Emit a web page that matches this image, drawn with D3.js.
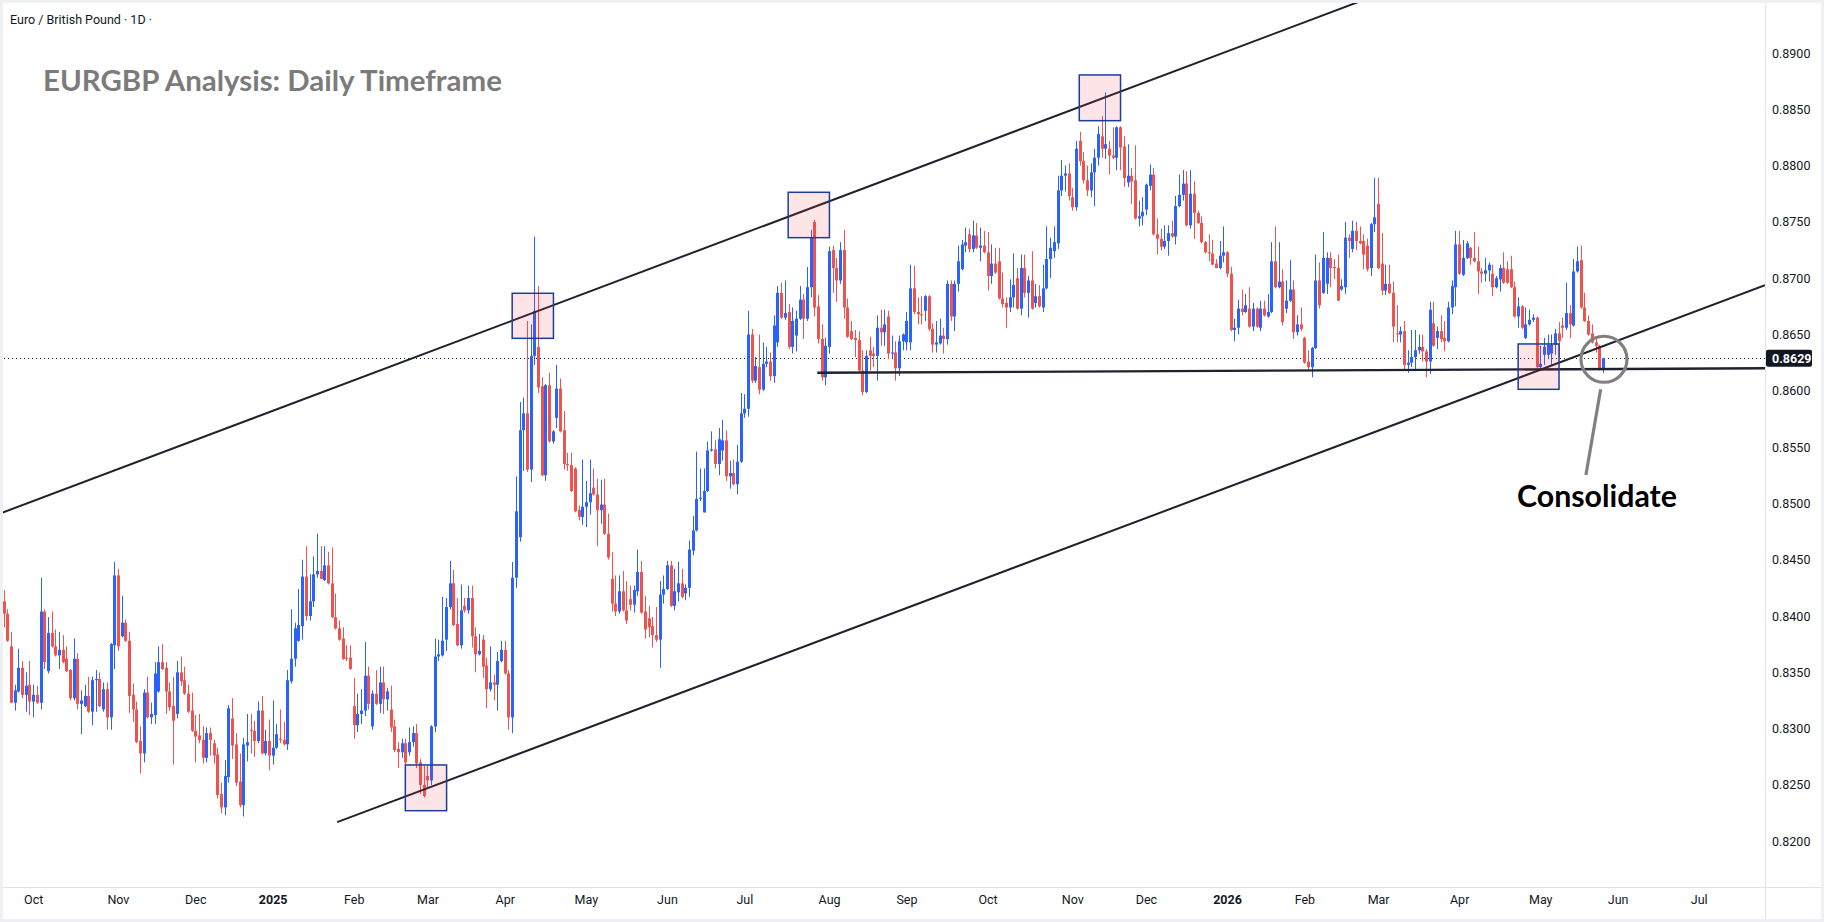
<!DOCTYPE html>
<html lang="en">
<head>
<meta charset="utf-8">
<title>EURGBP Analysis: Daily Timeframe</title>
<script src="https://d3js.org/d3.v7.min.js"></script>
<style>
  body { margin: 0; background: #fff; }
  svg { display: block; font-family: Roboto, "Liberation Sans", sans-serif; }
</style>
</head>
<body>
<div id="chart"></div>
<script>

// EURGBP daily candles, prices in pips (price x 10000), first bar 2024-09-19
var opens = [
  8413,8402,8373,8323,8333,8354,8330,8339,8324,8330, 8323,8404,8351,8385,8373,8365,8370,8362,8352,8327,
  8362,8322,8320,8329,8315,8343,8344,8317,8335,8310, 8374,8436,8382,8394,8378,8330,8317,8289,8278,8332,
  8310,8312,8333,8359,8354,8333,8320,8313,8350,8343, 8331,8316,8298,8294,8290,8274,8296,8287,8277,8242,
  8230,8257,8309,8286,8253,8232,8285,8299,8298,8289, 8316,8278,8289,8276,8283,8291,8290,8286,8342,8362,
  8378,8391,8435,8400,8413,8437,8440,8432,8445,8429, 8399,8389,8380,8363,8363,8320,8303,8313,8316,8347,
  8302,8331,8322,8341,8326,8317,8302,8282,8279,8287, 8279,8288,8296,8270,8250,8258,8254,8302,8364,8365,
  8379,8408,8429,8393,8374,8409,8405,8416,8382,8366, 8379,8356,8335,8341,8339,8360,8370,8349,8310,8434,
  8470,8565,8580,8530,8631,8639,8604,8525,8605,8555, 8576,8602,8565,8535,8534,8531,8494,8488,8497,8501,
  8514,8508,8494,8499,8473,8433,8411,8404,8422,8405, 8415,8410,8422,8439,8404,8398,8391,8383,8379,8419,
  8424,8445,8409,8421,8429,8420,8425,8458,8476,8504, 8492,8511,8547,8548,8535,8547,8556,8524,8527,8517,
  8537,8580,8584,8650,8609,8621,8601,8624,8626,8613, 8643,8687,8665,8670,8639,8649,8664,8681,8664,8692,
  8750,8675,8646,8612,8639,8725,8709,8698,8725,8674, 8653,8647,8645,8618,8599,8636,8633,8631,8656,8652,
  8666,8633,8634,8620,8644,8643,8643,8691,8670,8668, 8671,8684,8655,8641,8642,8649,8646,8695,8666,8695,
  8708,8729,8739,8726,8738,8727,8729,8723,8702,8713, 8715,8682,8678,8674,8683,8700,8673,8709,8687,8698,
  8678,8684,8674,8691,8717,8724,8731,8778,8791,8793, 8772,8763,8822,8804,8787,8778,8794,8807,8826,8815,
  8815,8809,8807,8834,8817,8785,8791,8787,8753,8755, 8761,8782,8792,8739,8735,8728,8733,8740,8737,8764,
  8774,8784,8747,8775,8758,8749,8732,8723,8722,8713, 8709,8720,8723,8704,8654,8656,8673,8670,8673,8657,
  8673,8656,8673,8666,8670,8715,8692,8697,8673,8680, 8690,8652,8659,8647,8626,8621,8638,8698,8687,8695,
  8718,8710,8709,8690,8692,8736,8726,8742,8733,8733, 8729,8709,8748,8766,8713,8689,8695,8687,8651,8650,
  8653,8623,8625,8630,8636,8639,8635,8626,8660,8647, 8653,8647,8644,8674,8692,8730,8703,8718,8727,8718,
  8715,8706,8704,8707,8704,8692,8699,8709,8708,8708, 8692,8666,8675,8647,8659,8663,8665,8621,8632,8632,
  8633,8641,8651,8658,8656,8669,8658,8706,8716,8674, 8662,8651,8643,8640,8619
];
var highs = [
  8423,8406,8386,8339,8371,8360,8350,8360,8339,8338, 8434,8406,8399,8404,8388,8386,8383,8373,8353,8380,
  8367,8334,8339,8346,8346,8352,8350,8341,8341,8376, 8448,8442,8418,8397,8386,8340,8324,8302,8335,8346,
  8323,8359,8373,8375,8359,8341,8346,8360,8364,8355, 8339,8332,8312,8313,8302,8301,8301,8290,8283,8252,
  8272,8321,8327,8296,8278,8292,8313,8313,8307,8324, 8329,8299,8308,8325,8304,8317,8306,8352,8406,8394,
  8424,8450,8462,8437,8453,8473,8462,8462,8457,8461, 8420,8396,8390,8374,8374,8345,8331,8335,8377,8355,
  8334,8352,8355,8355,8336,8338,8308,8288,8291,8291, 8301,8302,8304,8273,8267,8267,8303,8380,8379,8417,
  8416,8449,8441,8416,8428,8416,8427,8427,8390,8384, 8383,8363,8373,8348,8368,8378,8378,8352,8448,8524,
  8590,8594,8662,8659,8737,8693,8612,8606,8616,8565, 8623,8611,8582,8545,8545,8532,8498,8539,8520,8539,
  8531,8522,8521,8522,8491,8457,8436,8436,8440,8431, 8427,8427,8459,8449,8418,8409,8399,8408,8431,8436,
  8449,8449,8442,8448,8442,8428,8467,8489,8546,8531, 8531,8555,8564,8556,8567,8574,8565,8538,8539,8552,
  8598,8597,8671,8655,8630,8650,8643,8639,8634,8667, 8693,8696,8698,8677,8674,8671,8693,8686,8710,8743,
  8752,8685,8659,8647,8728,8729,8718,8732,8743,8682, 8662,8654,8653,8636,8636,8648,8639,8667,8672,8672,
  8671,8649,8644,8649,8651,8670,8712,8711,8683,8684, 8685,8685,8660,8662,8664,8656,8698,8698,8698,8729,
  8734,8745,8744,8751,8749,8745,8742,8741,8730,8727, 8727,8705,8683,8699,8722,8709,8721,8721,8702,8724,
  8695,8694,8712,8746,8736,8746,8791,8805,8800,8802, 8780,8822,8830,8812,8800,8802,8815,8835,8844,8865,
  8822,8834,8835,8835,8826,8819,8798,8818,8769,8772, 8784,8801,8798,8753,8744,8747,8747,8751,8773,8792,
  8796,8795,8796,8786,8760,8755,8733,8739,8734,8717, 8733,8746,8724,8710,8664,8681,8690,8686,8692,8678,
  8674,8680,8680,8686,8732,8746,8732,8708,8698,8716, 8698,8667,8674,8648,8636,8639,8721,8714,8741,8723,
  8723,8717,8721,8699,8750,8739,8751,8750,8746,8739, 8735,8749,8789,8789,8740,8712,8712,8697,8676,8657,
  8662,8636,8654,8654,8650,8650,8637,8679,8679,8657, 8667,8662,8679,8698,8742,8742,8734,8733,8728,8741,
  8728,8709,8718,8714,8712,8702,8712,8723,8715,8720, 8697,8683,8676,8674,8672,8668,8666,8640,8647,8650,
  8650,8655,8661,8665,8696,8676,8717,8728,8729,8687, 8667,8659,8646,8641,8629
];
var lows = [
  8390,8377,8323,8316,8332,8327,8315,8312,8310,8322, 8317,8353,8349,8372,8364,8353,8358,8350,8325,8325,
  8317,8295,8319,8314,8303,8315,8319,8315,8299,8299, 8353,8369,8381,8377,8314,8306,8287,8260,8270,8309,
  8304,8304,8332,8352,8313,8316,8268,8309,8338,8330, 8314,8297,8270,8287,8269,8270,8276,8269,8238,8225,
  8223,8252,8273,8249,8230,8222,8271,8278,8275,8287, 8277,8276,8263,8268,8282,8287,8285,8281,8340,8355,
  8377,8379,8396,8396,8408,8434,8433,8431,8428,8398, 8388,8378,8361,8360,8352,8291,8297,8304,8311,8317,
  8299,8321,8314,8313,8316,8297,8279,8265,8274,8265, 8276,8284,8265,8242,8239,8248,8250,8297,8360,8364,
  8369,8406,8391,8373,8371,8403,8402,8372,8350,8365, 8345,8318,8333,8325,8316,8359,8348,8299,8296,8425,
  8466,8529,8528,8519,8623,8598,8524,8520,8554,8553, 8567,8563,8530,8529,8510,8492,8485,8481,8479,8490,
  8507,8462,8482,8472,8450,8404,8400,8402,8404,8393, 8405,8403,8418,8402,8380,8381,8372,8377,8354,8411,
  8423,8408,8405,8413,8416,8414,8417,8454,8475,8502, 8492,8510,8546,8531,8525,8538,8520,8513,8516,8508,
  8536,8576,8577,8607,8607,8597,8600,8621,8609,8607, 8639,8664,8663,8637,8633,8635,8663,8646,8662,8683,
  8666,8642,8609,8605,8633,8687,8679,8695,8664,8647, 8645,8630,8617,8596,8598,8618,8621,8609,8640,8640,
  8628,8628,8609,8613,8636,8636,8636,8668,8659,8659, 8662,8653,8634,8634,8641,8633,8641,8662,8653,8688,
  8707,8723,8723,8723,8726,8715,8722,8689,8695,8704, 8681,8674,8656,8670,8674,8672,8667,8683,8665,8672,
  8674,8674,8670,8690,8700,8718,8726,8773,8777,8769, 8760,8760,8800,8784,8773,8772,8764,8800,8807,8806,
  8792,8806,8796,8796,8781,8781,8766,8752,8746,8747, 8756,8778,8738,8721,8725,8726,8720,8736,8730,8763,
  8769,8746,8744,8735,8748,8731,8722,8715,8712,8709, 8708,8714,8701,8653,8644,8650,8667,8669,8656,8653,
  8656,8653,8666,8665,8669,8691,8691,8658,8669,8679, 8646,8649,8653,8624,8619,8612,8637,8673,8686,8686,
  8692,8699,8680,8689,8686,8718,8723,8725,8730,8708, 8706,8702,8741,8708,8685,8685,8686,8643,8643,8643,
  8618,8616,8621,8619,8633,8626,8612,8615,8639,8637, 8643,8635,8643,8668,8675,8703,8702,8717,8712,8714,
  8686,8696,8697,8697,8684,8691,8688,8695,8695,8691, 8665,8656,8655,8646,8658,8661,8620,8618,8623,8628,
  8623,8632,8630,8647,8654,8647,8657,8705,8673,8661, 8649,8642,8634,8618,8616
];
var closes = [
  8402,8378,8323,8334,8354,8330,8338,8324,8330,8323, 8404,8359,8385,8373,8365,8370,8359,8351,8327,8362,
  8322,8325,8329,8315,8343,8344,8320,8335,8310,8375, 8436,8373,8394,8378,8329,8317,8288,8278,8332,8310,
  8313,8349,8359,8353,8333,8319,8307,8350,8342,8331, 8315,8298,8293,8290,8274,8296,8290,8276,8241,8230,
  8258,8318,8285,8252,8232,8286,8288,8298,8289,8316, 8278,8289,8276,8283,8295,8290,8286,8343,8362,8389,
  8392,8435,8400,8413,8437,8440,8433,8445,8429,8399, 8389,8379,8362,8362,8353,8303,8313,8316,8347,8322,
  8331,8322,8341,8326,8333,8301,8281,8279,8287,8270, 8288,8296,8269,8250,8240,8254,8302,8364,8366,8378,
  8408,8429,8392,8374,8405,8405,8416,8382,8366,8369, 8355,8335,8341,8339,8360,8370,8349,8310,8434,8493,
  8565,8580,8530,8631,8671,8603,8525,8605,8555,8564, 8602,8564,8535,8534,8511,8493,8488,8497,8501,8509,
  8508,8494,8499,8473,8452,8411,8404,8422,8405,8396, 8410,8423,8439,8403,8388,8390,8383,8379,8419,8424,
  8445,8409,8422,8429,8417,8425,8459,8476,8504,8505, 8511,8547,8548,8535,8557,8556,8524,8527,8517,8537,
  8580,8584,8650,8609,8622,8601,8624,8626,8613,8658, 8687,8665,8669,8639,8662,8664,8681,8664,8692,8736,
  8674,8646,8612,8640,8724,8709,8698,8725,8674,8648, 8646,8645,8618,8599,8631,8631,8631,8656,8652,8659,
  8633,8634,8620,8644,8650,8662,8691,8670,8668,8667, 8684,8655,8641,8643,8649,8646,8695,8666,8695,8715,
  8730,8732,8726,8738,8727,8729,8723,8702,8713,8705, 8682,8677,8674,8683,8694,8673,8709,8687,8698,8673,
  8684,8675,8691,8717,8727,8732,8778,8791,8793,8773, 8763,8815,8804,8787,8778,8794,8807,8828,8815,8819,
  8809,8807,8834,8816,8789,8791,8786,8753,8755,8759, 8783,8792,8739,8735,8728,8733,8740,8737,8764,8774,
  8784,8747,8775,8758,8749,8732,8723,8722,8712,8709, 8720,8723,8704,8654,8656,8673,8670,8676,8657,8673,
  8657,8673,8667,8670,8715,8692,8697,8661,8680,8690, 8652,8659,8655,8625,8621,8638,8698,8676,8718,8718,
  8709,8709,8680,8693,8736,8733,8742,8733,8731,8721, 8708,8748,8754,8709,8689,8695,8687,8657,8650,8653,
  8623,8625,8630,8636,8639,8635,8626,8672,8640,8653, 8646,8644,8674,8693,8730,8704,8718,8731,8718,8715,
  8706,8704,8707,8712,8692,8700,8709,8696,8696,8692, 8666,8675,8656,8659,8663,8665,8621,8624,8639,8641,
  8641,8651,8644,8656,8669,8659,8706,8715,8674,8662, 8650,8643,8640,8619,8629
];

var priceTicks = [0.8200, 0.8250, 0.8300, 0.8350, 0.8400, 0.8450, 0.8500, 0.8550,
                  0.8600, 0.8650, 0.8700, 0.8750, 0.8800, 0.8850, 0.8900];
var monthNames = ['Jan', 'Feb', 'Mar', 'Apr', 'May', 'Jun', 'Jul', 'Aug', 'Sep', 'Oct', 'Nov', 'Dec'];
var firstDay = new Date(2024, 8, 19);
var lastPrice = 0.8629;

// drawings, as [bar index, price]
var channelTop = [[-1, 0.8491], [369, 0.8947]];
var channelBottom = [[90.5, 0.82169], [478, 0.86937]];
var supportLine = [[220.8, 0.8616], [478, 0.8620]];
// touch boxes: [first bar, last bar, low price, high price]
var touchBoxes = [
  [109, 120.2, 0.82271, 0.82677],
  [138, 149.2, 0.86466, 0.86866],
  [212.9, 224.1, 0.87360, 0.87763],
  [291.9, 303.1, 0.88399, 0.88805],
  [411, 422.1, 0.86013, 0.86416]
];
var focusPoint = [434.3, 0.8628];
var pointer = [[433.4, 0.86013], [429.4, 0.85252]];
var noteAt = [432.4, 0.84965];
var noteText = 'Consolidate';

var W = 1824, H = 922;
var plotW = 1765, plotH = 887;

// trading calendar: weekdays, no bars on Dec 25 / Jan 1
var dates = [];
var d = new Date(firstDay);
while (dates.length < 480) {
  var wd = d.getDay();
  var hol = (d.getMonth() == 11 && d.getDate() == 25) || (d.getMonth() == 0 && d.getDate() == 1);
  if (wd > 0 && wd < 6 && !hol) dates.push(new Date(d));
  d.setDate(d.getDate() + 1);
}

var bars = closes.map(function(c, i) {
  return { i: i, o: opens[i] / 1e4, h: highs[i] / 1e4, l: lows[i] / 1e4, c: c / 1e4 };
});

var x = d3.scaleLinear().domain([-1, 478]).range([0, plotW]);
var y = d3.scaleLinear().domain([0.82, 0.89]).range([841.2, 53]);

var svg = d3.select('#chart').append('svg')
  .attr('width', W)
  .attr('height', H);

svg.append('rect').attr('width', W).attr('height', H).attr('fill', '#fff');

svg.append('clipPath').attr('id', 'plotclip')
  .append('rect').attr('width', plotW).attr('height', plotH);

var plot = svg.append('g').attr('clip-path', 'url(#plotclip)');

// last price dotted line
plot.append('line')
  .attr('x1', 0).attr('x2', plotW)
  .attr('y1', Math.round(y(lastPrice)) + 0.5).attr('y2', Math.round(y(lastPrice)) + 0.5)
  .attr('stroke', '#131722')
  .attr('stroke-width', 1)
  .attr('stroke-dasharray', '1,3');

// candles
var up = '#2962ff', down = '#ef5350';
var cg = plot.append('g');
cg.selectAll('line')
  .data(bars)
  .join('line')
  .attr('x1', function(b) { return Math.round(x(b.i)) + 0.5; })
  .attr('x2', function(b) { return Math.round(x(b.i)) + 0.5; })
  .attr('y1', function(b) { return y(b.h); })
  .attr('y2', function(b) { return y(b.l); })
  .attr('stroke', function(b) { return b.c >= b.o ? up : down; })
  .attr('stroke-width', 1);

cg.selectAll('rect')
  .data(bars)
  .join('rect')
  .attr('x', function(b) { return Math.round(x(b.i)) - 1; })
  .attr('width', 3)
  .attr('y', function(b) { return y(Math.max(b.o, b.c)); })
  .attr('height', function(b) { return Math.max(1, Math.abs(y(b.o) - y(b.c))); })
  .attr('fill', function(b) { return b.c >= b.o ? up : down; });

// trend lines
var seg = d3.line()
  .x(function(p) { return x(p[0]); })
  .y(function(p) { return y(p[1]); });

[channelTop, channelBottom].forEach(function(pts) {
  plot.append('path')
    .attr('d', seg(pts))
    .attr('fill', 'none')
    .attr('stroke', '#1e222d')
    .attr('stroke-width', 2);
});

plot.append('path')
  .attr('d', seg(supportLine))
  .attr('fill', 'none')
  .attr('stroke', '#1e222d')
  .attr('stroke-width', 2.4);

// touch boxes
plot.selectAll('rect.box')
  .data(touchBoxes)
  .join('rect')
  .attr('class', 'box')
  .attr('x', function(b) { return x(b[0]); })
  .attr('width', function(b) { return x(b[1]) - x(b[0]); })
  .attr('y', function(b) { return y(b[3]); })
  .attr('height', function(b) { return y(b[2]) - y(b[3]); })
  .attr('fill', 'rgba(242, 54, 69, 0.13)')
  .attr('stroke', '#1c3d9c')
  .attr('stroke-width', 1.5);

// circle + pointer + note
plot.append('circle')
  .attr('cx', x(focusPoint[0]))
  .attr('cy', y(focusPoint[1]))
  .attr('r', 23)
  .attr('fill', 'none')
  .attr('stroke', '#808080')
  .attr('stroke-width', 3.2);

plot.append('path')
  .attr('d', seg(pointer))
  .attr('stroke', '#808080')
  .attr('stroke-width', 3.2);

var note = plot.append('text')
  .attr('x', x(noteAt[0]))
  .attr('y', y(noteAt[1]))
  .attr('text-anchor', 'middle')
  .attr('font-family', 'Lato, "Open Sans", sans-serif')
  .attr('font-weight', 700)
  .attr('font-size', 28)
  .attr('fill', '#000')
  .text(noteText);
note.attr('font-size', 28 * 160 / note.node().getComputedTextLength());

// title and symbol line
svg.append('text')
  .attr('x', 10)
  .attr('y', 24)
  .attr('font-size', 12.5)
  .attr('fill', '#131722')
  .text('Euro / British Pound \u00b7 1D \u00b7');

var title = svg.append('text')
  .attr('x', 43)
  .attr('y', 91)
  .attr('font-family', 'Lato, "Open Sans", sans-serif')
  .attr('font-weight', 700)
  .attr('font-size', 30)
  .attr('fill', '#7b7b7b')
  .text('EURGBP Analysis: Daily Timeframe');
title.attr('font-size', 30 * 459 / title.node().getComputedTextLength());

// axes frame
svg.append('line')
  .attr('x1', plotW + 0.5).attr('x2', plotW + 0.5)
  .attr('y1', 0).attr('y2', H)
  .attr('stroke', '#e0e3eb');
svg.append('line')
  .attr('x1', 0).attr('x2', W)
  .attr('y1', plotH + 0.5).attr('y2', plotH + 0.5)
  .attr('stroke', '#e0e3eb');

// price axis
var yAxis = d3.axisRight(y)
  .tickValues(priceTicks)
  .tickFormat(d3.format('.4f'))
  .tickSize(0)
  .tickPadding(6);

svg.append('g')
  .attr('transform', 'translate(' + (plotW + 1) + ',0)')
  .call(yAxis)
  .call(function(g) { g.select('.domain').remove(); })
  .selectAll('text')
  .attr('font-family', 'Roboto, sans-serif')
  .attr('font-size', 12.5)
  .attr('fill', '#131722');

// last price tag
var lp = svg.append('g').attr('transform', 'translate(' + (plotW + 1) + ',' + y(lastPrice) + ')');
lp.append('rect')
  .attr('x', 0).attr('y', -8.5)
  .attr('width', 46).attr('height', 17)
  .attr('rx', 2)
  .attr('fill', '#131722');
lp.append('text')
  .attr('x', 6).attr('dy', '0.35em')
  .attr('font-size', 12.5)
  .attr('font-weight', 700)
  .attr('fill', '#fff')
  .text(d3.format('.4f')(lastPrice));

// time axis: first bar of every month
var monthTicks = [];
for (var i = 1; i < dates.length; i++) {
  if (dates[i].getMonth() != dates[i - 1].getMonth() && x(i) < plotW - 30) monthTicks.push(i);
}

var xAxis = d3.axisBottom(x)
  .tickValues(monthTicks)
  .tickFormat(function(i) {
    var m = dates[i].getMonth();
    return m == 0 ? String(dates[i].getFullYear()) : monthNames[m];
  })
  .tickSize(0)
  .tickPadding(8);

svg.append('g')
  .attr('transform', 'translate(0,' + plotH + ')')
  .call(xAxis)
  .call(function(g) { g.select('.domain').remove(); })
  .selectAll('text')
  .attr('font-family', 'Roboto, sans-serif')
  .attr('font-size', 12.5)
  .attr('fill', '#131722')
  .attr('font-weight', function(i) { return dates[i].getMonth() == 0 ? 700 : 400; });

// outer frame
svg.append('rect')
  .attr('x', 1.5).attr('y', 1.5)
  .attr('width', W - 3).attr('height', H - 3)
  .attr('fill', 'none')
  .attr('stroke', '#eef0f4')
  .attr('stroke-width', 3);

</script>
</body>
</html>
